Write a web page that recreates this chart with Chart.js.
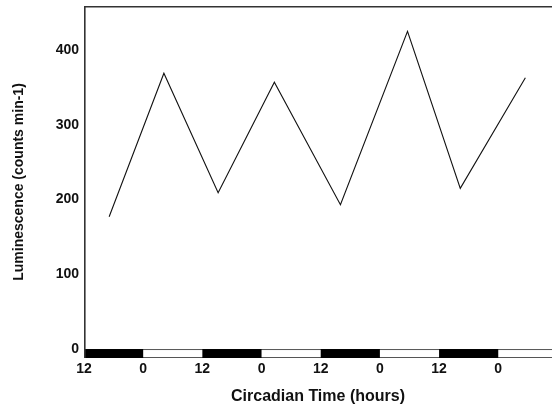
<!DOCTYPE html>
<html><head><meta charset="utf-8">
<script src="https://cdn.jsdelivr.net/npm/chart.js@4"></script>
<style>html,body{margin:0;padding:0;background:#fff}#wrap{width:552px;height:410px}</style>
</head><body><div id="wrap"><canvas id="c" width="552" height="410"></canvas></div>
<script>
// Data (hours of circadian time, luminescence counts min-1)
const timeHours = [5.1, 16.2, 27.2, 38.6, 52.0, 65.6, 76.3, 89.5];
const luminescence = [177, 369, 209, 357, 193, 425, 215, 363];
const xTickValues = [0, 12, 24, 36, 48, 60, 72, 84];
const xTickLabels = ['12', '0', '12', '0', '12', '0', '12', '0'];
const yTickValues = [0, 100, 200, 300, 400];
const darkStarts = [0, 24, 48, 72];
const lightStarts = [12, 36, 60, 84];
const phaseLength = 12;

const X_MAX = 94.9, Y_MIN = -12, Y_MAX = 459;

const framePlugin = {
  id: 'frame',
  afterDatasetsDraw(chart) {
    const {ctx, chartArea: a, scales: {x, y}} = chart;
    const top = y.getPixelForValue(0), bot = y.getPixelForValue(Y_MIN);
    ctx.save();
    ctx.fillStyle = '#fff';
    ctx.strokeStyle = '#555';
    ctx.lineWidth = 1;
    lightStarts.forEach(s => {
      const x0 = x.getPixelForValue(s), x1 = Math.min(x.getPixelForValue(s + phaseLength), a.right);
      ctx.fillRect(x0, top, x1 - x0, bot - top);
    });
    ctx.beginPath();
    ctx.moveTo(a.left, top + 0.5); ctx.lineTo(a.right, top + 0.5);
    ctx.moveTo(a.left, bot - 0.5); ctx.lineTo(a.right, bot - 0.5);
    ctx.stroke();
    ctx.fillStyle = '#000';
    darkStarts.forEach(s => {
      const x0 = x.getPixelForValue(s), x1 = x.getPixelForValue(s + phaseLength);
      ctx.fillRect(x0, top, x1 - x0, bot - top);
    });
    // top and left frame
    ctx.strokeStyle = '#333';
    ctx.lineWidth = 1.6;
    ctx.beginPath();
    ctx.moveTo(a.left, a.top + 0.8); ctx.lineTo(a.right, a.top + 0.8);
    ctx.moveTo(a.left + 0.8, a.top); ctx.lineTo(a.left + 0.8, a.bottom);
    ctx.stroke();
    ctx.restore();
  }
};

new Chart(document.getElementById('c'), {
  type: 'line',
  data: {
    datasets: [{
      data: timeHours.map((t, i) => ({x: t, y: luminescence[i]})),
      borderColor: '#111',
      borderWidth: 1.1,
      pointRadius: 0,
      tension: 0,
      fill: false
    }]
  },
  options: {
    responsive: false,
    animation: false,
    layout: {padding: {top: 6, right: 0, left: 0, bottom: 0}},
    plugins: {legend: {display: false}, tooltip: {enabled: false}},
    scales: {
      x: {
        type: 'linear', min: 0, max: X_MAX,
        grid: {display: false, drawTicks: false},
        border: {display: false},
        afterBuildTicks: s => { s.ticks = xTickValues.map(v => ({value: v})); },
        afterFit: s => { s.height = 52; s.paddingLeft = 0; s.paddingRight = 0; },
        ticks: {
          padding: 3, color: '#111', maxRotation: 0, autoSkip: false,
          font: {family: 'Liberation Sans', weight: 'bold', size: 14},
          callback: (v) => xTickLabels[xTickValues.indexOf(v)]
        },
        title: {display: true, text: 'Circadian Time (hours)', color: '#111',
          font: {family: 'Liberation Sans', weight: 'bold', size: 16}, padding: {top: 4, bottom: 3.4}}
      },
      y: {
        type: 'linear', min: Y_MIN, max: Y_MAX,
        grid: {display: false, drawTicks: false},
        border: {display: false},
        afterBuildTicks: s => { s.ticks = yTickValues.map(v => ({value: v})); },
        afterFit: s => { s.width = 84; s.paddingTop = 0; s.paddingBottom = 0; },
        ticks: {
          padding: 5, color: '#111',
          font: {family: 'Liberation Sans', weight: 'bold', size: 14}
        },
        title: {display: true, text: 'Luminescence (counts min-1)', color: '#111',
          font: {family: 'Liberation Sans', weight: 'bold', size: 14}, padding: {top: 10.6, bottom: 4}}
      }
    }
  },
  plugins: [framePlugin]
});
</script></body></html>
